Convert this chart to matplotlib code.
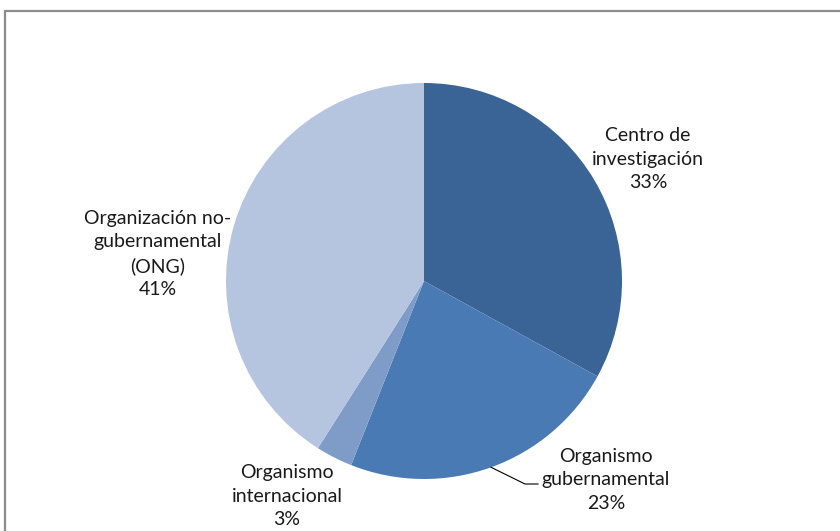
import matplotlib
matplotlib.use("Agg")
import matplotlib.pyplot as plt
import matplotlib.patches as patches
import numpy as np

# Data
categories = ["Centro de\ninvestigación", "Organismo\ngubernamental",
              "Organismo\ninternacional", "Organización no-\ngubernamental\n(ONG)"]
shares = [33, 23, 3, 41]
colors = ["#3B6496", "#4A7AB3", "#7F9CC9", "#B5C4DF"]

# Label placement (pixel coords, y from top) and leader flags
label_pos = [(648, 159), (606, 480), (287, 496), (158, 254)]
leader = [False, True, False, False]

W, H = 840, 531
fig = plt.figure(figsize=(W / 100, H / 100), dpi=100)
ax = fig.add_axes([0, 0, 1, 1])

cx, cy, r = 424, H - 281, 198
wedges, _ = ax.pie(shares, colors=colors, startangle=90, counterclock=False,
                   center=(cx, cy), radius=r, frame=True,
                   wedgeprops={"linewidth": 0})
ax.set_xlim(0, W)
ax.set_ylim(0, H)
ax.set_aspect("equal")
ax.axis("off")

for w, name, val, (lx, ly), lead in zip(wedges, categories, shares, label_pos, leader):
    ax.text(lx, H - ly, f"{name}\n{val}%", ha="center", va="center",
            fontsize=14, color="#1a1a1a", linespacing=1.45,
            family=["Lato", "DejaVu Sans"])
    if lead:
        mid = np.deg2rad((w.theta1 + w.theta2) / 2)
        x0, y0 = cx + r * np.cos(mid), cy + r * np.sin(mid)
        ax.plot([x0, 525, 538], [y0, H - 484, H - 484], color="black", lw=0.8)

# chart frame (only top and left edges visible)
fig.patches.append(patches.Rectangle((5 / W, -0.5), 1.5, 1.5 - 10.5 / H,
                                     transform=fig.transFigure, fill=False,
                                     edgecolor="#8c8c8c", linewidth=1.6))

fig.savefig("out.png", dpi=100)
